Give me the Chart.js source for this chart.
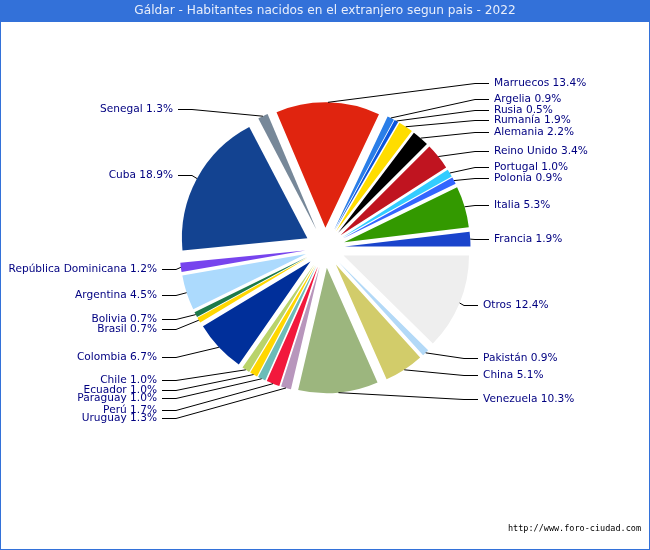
<!DOCTYPE html>
<html><head><meta charset="utf-8">
<script src="https://cdn.jsdelivr.net/npm/chart.js@4"></script>
<style>
html,body{margin:0;padding:0;background:#fff}
#wrap{position:relative;width:650px;height:550px}
canvas{display:block}
</style></head><body>
<div id="wrap"><canvas id="c" width="650" height="550"></canvas></div>
<script>
const titleText = 'Gáldar - Habitantes nacidos en el extranjero segun pais - 2022';
const footerText = 'http://www.foro-ciudad.com';
const categories = ['Otros','Pakistán','China','Venezuela','Uruguay','Perú','Paraguay','Ecuador','Chile','Colombia','Brasil','Bolivia','Argentina','República Dominicana','Cuba','Senegal','Marruecos','Argelia','Rusia','Rumanía','Alemania','Reino Unido','Portugal','Polonia','Italia','Francia'];
const percents = [12.4,0.9,5.1,10.3,1.3,1.7,1.0,1.0,1.0,6.7,0.7,0.7,4.5,1.2,18.9,1.3,13.4,0.9,0.5,1.9,2.2,3.4,1.0,0.9,5.3,1.9];
const sliceColors = ['#eeeeee','#b3d9f7','#d2cc6a','#9cb67e','#b896bc','#f2183c','#6cbcb8','#ffd700','#b9d36a','#002f9a','#ffd700','#1e7a4a','#acdafd','#7744ee','#134391','#778899','#e0240f','#2a7ee8','#0a55dd','#ffdd00','#000000','#c01420','#33ccff','#3366ff','#339900','#1a44cc'];
// Vertical centre of each label (label layout, in the same order as categories)
const labelY = [305,358,375,399,418,410,398,390,380,357,329,319,295,269,175,109,83,99,110,120,132,151,167,178,205,239];
const explode = 20;

const labelsPlugin = {
  id:'pieLabels',
  beforeDraw(chart){
    const {ctx,width,height} = chart;
    ctx.save();
    ctx.fillStyle='#3371d9';
    ctx.fillRect(0,0,width,22);
    ctx.fillRect(0,0,1,height);
    ctx.fillRect(width-1,0,1,height);
    ctx.fillRect(0,height-1,width,1);
    ctx.restore();
  },
  // every slice moves out along its bisector by the same distance, whatever its size
  beforeDatasetsDraw(chart){
    chart.getDatasetMeta(0).data.forEach(arc=>{
      if(arc.$exploded) return;
      arc.$exploded=true;
      const base=arc.draw;
      arc.draw=function(ctx,area){
        const mid=(this.startAngle+this.endAngle)/2;
        ctx.save();
        ctx.translate(Math.cos(mid)*explode,Math.sin(mid)*explode);
        base.call(this,ctx,area);
        ctx.restore();
      };
    });
  },
  afterDraw(chart){
    const {ctx} = chart;
    const arcs = chart.getDatasetMeta(0).data;
    ctx.save();
    ctx.font='10.6px "DejaVu Sans"';
    ctx.textBaseline='middle';
    arcs.forEach((arc,i)=>{
      const p = arc.getProps(['x','y','startAngle','endAngle','outerRadius'],true);
      const mid=(p.startAngle+p.endAngle)/2;
      const ax=p.x+Math.cos(mid)*(p.outerRadius+explode);
      const ay=p.y+Math.sin(mid)*(p.outerRadius+explode);
      const right=Math.cos(mid)>0;
      const upper=Math.sin(mid)<0;
      const tx=right?(upper?494:483):(upper?173:157);
      const ly=labelY[i];
      const sx=right?tx-5:tx+5;
      const ex=right?sx-14:sx+14;
      ctx.strokeStyle='#000';ctx.lineWidth=1;
      ctx.beginPath();ctx.moveTo(sx,ly+0.5);ctx.lineTo(ex,ly+0.5);ctx.lineTo(ax,ay);ctx.stroke();
      ctx.fillStyle='#000080';
      ctx.textAlign=right?'left':'right';
      ctx.fillText(categories[i]+' '+percents[i].toFixed(1)+'%',tx,ly);
    });
    ctx.fillStyle='#000';
    ctx.textAlign='right';
    ctx.font='8.5px "DejaVu Sans Mono"';
    ctx.fillText(footerText,641,529);
    ctx.restore();
  }
};

new Chart(document.getElementById('c'),{
  type:'pie',
  data:{labels:categories,datasets:[{data:percents,backgroundColor:sliceColors,borderWidth:0,hoverOffset:0}]},
  options:{
    responsive:false,animation:false,rotation:90,radius:125.5,
    layout:{padding:{left:0,right:0,top:0,bottom:77}},
    plugins:{
      legend:{display:false},tooltip:{enabled:false},
      title:{display:true,text:titleText,color:'#e8eefb',font:{family:'"DejaVu Sans"',size:12.15,weight:'normal'},padding:{top:4,bottom:4}}
    }
  },
  plugins:[labelsPlugin]
});
</script>
</body></html>
